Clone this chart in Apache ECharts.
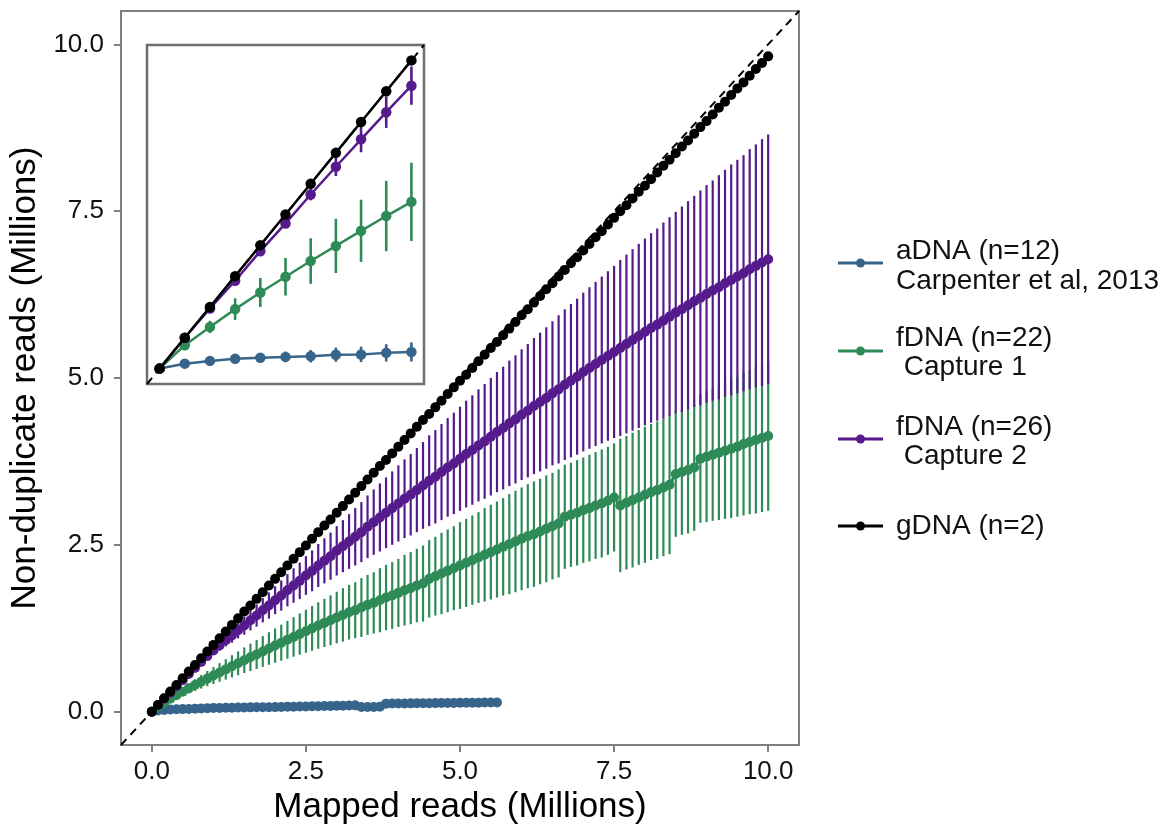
<!DOCTYPE html>
<html>
<head>
<meta charset="utf-8">
<script src="https://cdn.jsdelivr.net/npm/echarts@6/dist/echarts.min.js"></script>
<style>
html,body{margin:0;padding:0;background:#fff;}
#chart{width:1169px;height:824px;}
</style>
</head>
<body>
<div id="chart"></div>
<script>
// ---- data (millions of reads) ----
const xs = [0,0.1,0.2,0.3,0.4,0.5,0.6,0.7,0.8,0.9,1.0,
1.1,1.2,1.3,1.4,1.5,1.6,1.7,1.8,1.9,2.0,
2.1,2.2,2.3,2.4,2.5,2.6,2.7,2.8,2.9,3.0,
3.1,3.2,3.3,3.4,3.5,3.6,3.7,3.8,3.9,4.0,
4.1,4.2,4.3,4.4,4.5,4.6,4.7,4.8,4.9,5.0,
5.1,5.2,5.3,5.4,5.5,5.6,5.7,5.8,5.9,6.0,
6.1,6.2,6.3,6.4,6.5,6.6,6.7,6.8,6.9,7.0,
7.1,7.2,7.3,7.4,7.5,7.6,7.7,7.8,7.9,8.0,
8.1,8.2,8.3,8.4,8.5,8.6,8.7,8.8,8.9,9.0,
9.1,9.2,9.3,9.4,9.5,9.6,9.7,9.8,9.9,10.0];

const aDNA = [0,0.016,0.025,0.032,0.035,0.038,0.04,0.045,0.046,0.051,0.054,
0.056,0.058,0.059,0.061,0.062,0.064,0.065,0.066,0.067,0.068,
0.07,0.072,0.074,0.076,0.078,0.08,0.082,0.084,0.086,0.088,
0.09,0.092,0.094,0.07,0.07,0.071,0.072,0.12,0.121,0.122,
0.123,0.124,0.125,0.126,0.127,0.128,0.129,0.13,0.131,0.132,
0.133,0.134,0.135,0.136,0.137,0.138];
const aDNAsd = [0,0.005,0.008,0.011,0.014,0.017,0.02,0.023,0.025,0.028,0.031,
0.032,0.033,0.033,0.034,0.034,0.035,0.035,0.036,0.036,0.037,
0.037,0.038,0.038,0.039,0.039,0.04,0.04,0.041,0.041,0.042,
0.042,0.043,0.043,0.03,0.03,0.03,0.03,0.045,0.045,0.046,
0.046,0.047,0.047,0.048,0.048,0.049,0.049,0.05,0.05,0.051,
0.051,0.052,0.052,0.053,0.053,0.054];

const fDNA1 = [0,0.076,0.135,0.193,0.247,0.298,0.349,0.398,0.447,0.495,0.541,
0.587,0.633,0.679,0.724,0.77,0.814,0.858,0.902,0.946,0.99,
1.033,1.076,1.119,1.162,1.205,1.248,1.29,1.33,1.37,1.41,
1.45,1.49,1.52,1.56,1.6,1.63,1.67,1.71,1.74,1.78,
1.82,1.85,1.89,1.92,1.99,2.03,2.07,2.11,2.15,2.19,
2.23,2.27,2.31,2.35,2.39,2.43,2.47,2.51,2.55,2.59,
2.63,2.66,2.7,2.74,2.78,2.82,2.92,2.95,2.98,3.02,
3.05,3.09,3.12,3.16,3.21,3.09,3.13,3.17,3.21,3.25,
3.29,3.32,3.36,3.4,3.56,3.59,3.62,3.66,3.79,3.82,
3.85,3.88,3.91,3.94,3.97,4.01,4.04,4.07,4.1,4.13];
const fDNA1sd = [0,0.008,0.02,0.035,0.047,0.061,0.074,0.088,0.101,0.114,0.127,
0.14,0.153,0.166,0.179,0.192,0.205,0.218,0.231,0.244,0.257,
0.27,0.283,0.296,0.309,0.322,0.335,0.348,0.361,0.374,0.387,
0.4,0.41,0.42,0.44,0.45,0.46,0.48,0.49,0.5,0.51,
0.53,0.54,0.55,0.57,0.58,0.59,0.61,0.62,0.63,0.65,
0.66,0.67,0.68,0.7,0.71,0.72,0.73,0.75,0.76,0.77,
0.78,0.79,0.79,0.8,0.8,0.81,0.78,0.78,0.79,0.79,
0.8,0.8,0.81,0.81,0.81,1.0,1.0,1.01,1.01,1.02,
1.02,1.03,1.03,1.04,0.94,0.94,0.95,0.95,0.96,0.98,
0.99,1.01,1.02,1.04,1.05,1.07,1.08,1.1,1.11,1.12];

const fDNA2 = [0,0.1,0.195,0.285,0.381,0.471,0.565,0.655,0.744,0.832,0.918,
0.99,1.07,1.14,1.22,1.29,1.37,1.44,1.52,1.59,1.67,
1.74,1.82,1.89,1.96,2.04,2.11,2.19,2.26,2.33,2.41,
2.48,2.55,2.62,2.69,2.77,2.84,2.91,2.98,3.05,3.12,
3.19,3.25,3.32,3.39,3.46,3.52,3.59,3.66,3.72,3.79,
3.86,3.92,3.99,4.05,4.12,4.19,4.25,4.32,4.38,4.45,
4.51,4.58,4.64,4.7,4.77,4.83,4.9,4.96,5.02,5.09,
5.15,5.21,5.27,5.33,5.39,5.45,5.51,5.57,5.63,5.69,
5.75,5.8,5.86,5.92,5.98,6.03,6.09,6.15,6.2,6.26,
6.31,6.36,6.42,6.47,6.52,6.57,6.63,6.68,6.73,6.78];
const fDNA2sd = [0,0.004,0.006,0.008,0.01,0.014,0.019,0.03,0.042,0.051,0.062,
0.077,0.092,0.107,0.122,0.137,0.152,0.167,0.182,0.196,0.21,
0.226,0.242,0.258,0.274,0.29,0.306,0.322,0.338,0.354,0.37,
0.39,0.41,0.43,0.45,0.47,0.49,0.51,0.53,0.55,0.57,
0.59,0.61,0.63,0.65,0.68,0.7,0.72,0.74,0.76,0.78,
0.8,0.82,0.84,0.86,0.88,0.9,0.92,0.94,0.96,0.98,
1.0,1.02,1.04,1.06,1.08,1.11,1.13,1.15,1.17,1.19,
1.21,1.23,1.25,1.27,1.29,1.32,1.34,1.36,1.38,1.4,
1.42,1.44,1.47,1.49,1.51,1.54,1.56,1.58,1.61,1.63,
1.65,1.68,1.7,1.73,1.75,1.77,1.8,1.82,1.85,1.87];

const gDNA = [0,0.1,0.2,0.3,0.4,0.5,0.6,0.7,0.8,0.9,1.0,
1.1,1.2,1.3,1.4,1.5,1.59,1.69,1.79,1.89,1.99,
2.09,2.19,2.29,2.39,2.49,2.59,2.69,2.79,2.88,2.98,
3.08,3.18,3.28,3.38,3.48,3.58,3.68,3.77,3.87,3.97,
4.07,4.17,4.27,4.37,4.46,4.56,4.66,4.76,4.86,4.96,
5.05,5.15,5.25,5.35,5.45,5.54,5.64,5.74,5.84,5.94,
6.03,6.13,6.23,6.33,6.42,6.52,6.62,6.72,6.81,6.91,
7.01,7.11,7.2,7.3,7.4,7.5,7.59,7.69,7.79,7.88,
7.98,8.08,8.18,8.27,8.37,8.47,8.56,8.66,8.76,8.85,
8.95,9.05,9.14,9.24,9.34,9.43,9.53,9.63,9.72,9.82];

const xTicks = [0, 2.5, 5, 7.5, 10];
const yTicks = [0, 2.5, 5, 7.5, 10];
const insetCount = 11; // inset shows the first 11 points (0 – 1.0 M)

const legendItems = [
  ['aDNA (n=12)', 'Carpenter et al, 2013'],
  ['fDNA (n=22)', ' Capture 1'],
  ['fDNA (n=26)', ' Capture 2'],
  ['gDNA (n=2)']
];

// ---- styling ----
const COLORS = ['#36648B', '#2E8B57', '#551A8B', '#000000'];
const FONT = "'Liberation Sans', Arial, Helvetica, sans-serif";
const groups = [
  {name: legendItems[0].join(' '), y: aDNA, sd: aDNAsd},
  {name: legendItems[1].join(' '), y: fDNA1, sd: fDNA1sd},
  {name: legendItems[2].join(' '), y: fDNA2, sd: fDNA2sd},
  {name: legendItems[3].join(' '), y: gDNA, sd: null}
];

function pts(g, n) {
  const out = [];
  const len = Math.min(g.y.length, n);
  for (let i = 0; i < len; i++) out.push([xs[i], g.y[i]]);
  return out;
}
function bars(g, n) {
  const out = [];
  if (!g.sd) return out;
  const len = Math.min(g.y.length, n);
  for (let i = 0; i < len; i++) out.push([xs[i], g.y[i] - g.sd[i], g.y[i] + g.sd[i]]);
  return out;
}
function errRender(color, w) {
  return function (params, api) {
    const a = api.coord([api.value(0), api.value(1)]);
    const b = api.coord([api.value(0), api.value(2)]);
    return {type: 'line', shape: {x1: a[0], y1: a[1], x2: b[0], y2: b[1]},
            style: {stroke: color, lineWidth: w}};
  };
}

const series = [];
// identity (dashed) lines
series.push({type: 'line', xAxisIndex: 0, yAxisIndex: 0, data: [[-0.5, -0.5], [10.5, 10.5]],
  symbol: 'none', lineStyle: {color: '#000', width: 2, type: [8, 6]}, z: 1, silent: true});
series.push({type: 'line', xAxisIndex: 1, yAxisIndex: 1, data: [[-0.05, -0.05], [1.05, 1.05]],
  symbol: 'none', lineStyle: {color: '#000', width: 2, type: [8, 6]}, z: 6, silent: true});

// error bars (drawn beneath lines / points)
groups.forEach((g, k) => {
  if (!g.sd) return;
  series.push({type: 'custom', xAxisIndex: 0, yAxisIndex: 0, data: bars(g, 1000),
    renderItem: errRender(COLORS[k], 2.2), encode: {x: 0, y: [1, 2]}, z: 2, clip: true, silent: true});
  series.push({type: 'custom', xAxisIndex: 1, yAxisIndex: 1, data: bars(g, insetCount),
    renderItem: errRender(COLORS[k], 2.6), encode: {x: 0, y: [1, 2]}, z: 7, clip: true, silent: true});
});
// lines + points
groups.forEach((g, k) => {
  series.push({type: 'line', name: g.name, xAxisIndex: 0, yAxisIndex: 0, data: pts(g, 1000),
    symbol: 'circle', symbolSize: 10, showAllSymbol: true,
    itemStyle: {color: COLORS[k]}, lineStyle: {color: COLORS[k], width: 3}, z: 3 + k * 0.1, silent: true});
  series.push({type: 'line', name: g.name, xAxisIndex: 1, yAxisIndex: 1, data: pts(g, insetCount),
    symbol: 'circle', symbolSize: 10.5, showAllSymbol: true,
    itemStyle: {color: COLORS[k]}, lineStyle: {color: COLORS[k], width: 2.5}, z: 8 + k * 0.1, silent: true});
});

// legend (drawn as graphic elements)
const legendGraphic = [];
const legendRows = [
  {lineY: 263, textY: [251, 281]},
  {lineY: 351, textY: [338, 367]},
  {lineY: 439, textY: [427, 456]},
  {lineY: 526, textY: [526]}
];
legendItems.forEach((lines, k) => {
  const r = legendRows[k];
  legendGraphic.push({type: 'line', shape: {x1: 838, y1: r.lineY, x2: 883, y2: r.lineY},
    style: {stroke: COLORS[k], lineWidth: 3}});
  legendGraphic.push({type: 'circle', shape: {cx: 860.5, cy: r.lineY, r: 4.5}, style: {fill: COLORS[k]}});
  lines.forEach((t, j) => {
    legendGraphic.push({type: 'text', x: 896, y: r.textY[j],
      style: {text: t, fontSize: 28, fontFamily: FONT, fill: '#111', verticalAlign: 'middle', align: 'left'}});
  });
});

const tickStyle = {color: '#7f7f7f', width: 2};
const option = {
  animation: false,
  backgroundColor: '#fff',
  grid: [
    {left: 121, top: 11, width: 678, height: 734, show: true, borderColor: '#7f7f7f', borderWidth: 2,
     backgroundColor: 'rgba(0,0,0,0)', containLabel: false, outerBoundsMode: 'none'},
    {left: 147, top: 45, width: 277, height: 339, show: true, borderColor: '#6e6e6e', borderWidth: 2.5,
     backgroundColor: '#fff', z: 5, containLabel: false, outerBoundsMode: 'none'}
  ],
  xAxis: [
    {gridIndex: 0, type: 'value', min: -0.5, max: 10.5, position: 'bottom',
     axisLine: {show: false, onZero: false},
     axisTick: {show: true, inside: false, customValues: xTicks, length: 7, lineStyle: tickStyle},
     axisLabel: {customValues: xTicks, formatter: v => Number(v).toFixed(1), fontSize: 26,
                 color: '#111', margin: 14, fontFamily: FONT},
     splitLine: {show: false},
     name: 'Mapped reads (Millions)', nameLocation: 'middle', nameGap: 42,
     nameTextStyle: {fontSize: 35, color: '#000', fontFamily: FONT}},
    {gridIndex: 1, type: 'value', min: -0.05, max: 1.05, show: false, splitLine: {show: false}}
  ],
  yAxis: [
    {gridIndex: 0, type: 'value', min: -0.5, max: 10.5, position: 'left',
     axisLine: {show: false, onZero: false},
     axisTick: {show: true, inside: false, customValues: yTicks, length: 7, lineStyle: tickStyle},
     axisLabel: {customValues: yTicks, formatter: v => Number(v).toFixed(1), fontSize: 26,
                 color: '#111', margin: 17, fontFamily: FONT},
     splitLine: {show: false},
     name: 'Non-duplicate reads (Millions)', nameLocation: 'middle', nameGap: 75,
     nameTextStyle: {fontSize: 35, color: '#000', fontFamily: FONT}},
    {gridIndex: 1, type: 'value', min: -0.05, max: 1.05, show: false, splitLine: {show: false}}
  ],
  series: series,
  graphic: {elements: legendGraphic}
};

const chart = echarts.init(document.getElementById('chart'), null, {renderer: 'canvas'});
chart.setOption(option);
</script>
</body>
</html>
